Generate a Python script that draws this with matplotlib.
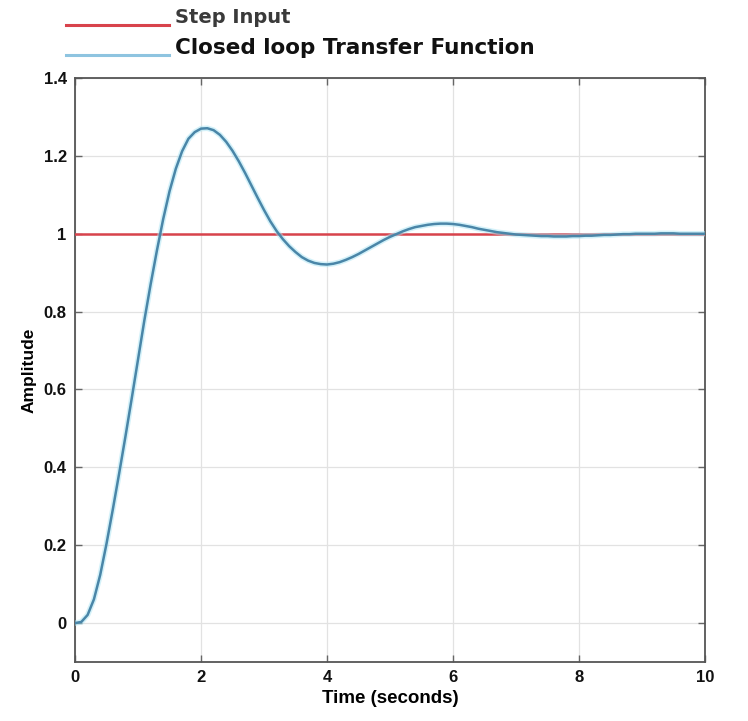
import numpy as np
import matplotlib
matplotlib.use("Agg")
import matplotlib.pyplot as plt
from matplotlib.lines import Line2D

# closed loop step response, sampled every 0.1 s
time_s = np.round(np.arange(0, 10.01, 0.1), 1)
response = [
    0.000, 0.003, 0.021, 0.061, 0.124, 0.204, 0.292, 0.384, 0.479, 0.577,
    0.677, 0.777, 0.870, 0.957, 1.038, 1.109, 1.167, 1.212, 1.244, 1.261,
    1.270, 1.271, 1.266, 1.254, 1.236, 1.213, 1.186, 1.156, 1.124, 1.092,
    1.061, 1.032, 1.007, 0.986, 0.968, 0.953, 0.940, 0.931, 0.925, 0.922,
    0.921, 0.923, 0.927, 0.933, 0.940, 0.948, 0.957, 0.966, 0.975, 0.984,
    0.992, 0.999, 1.006, 1.012, 1.017, 1.020, 1.023, 1.025, 1.026, 1.026,
    1.025, 1.023, 1.020, 1.017, 1.013, 1.010, 1.007, 1.004, 1.002, 1.000,
    0.998, 0.997, 0.996, 0.995, 0.994, 0.994, 0.993, 0.993, 0.993, 0.994,
    0.994, 0.995, 0.995, 0.996, 0.997, 0.997, 0.998, 0.999, 0.999, 1.000,
    1.000, 1.000, 1.000, 1.001, 1.001, 1.001, 1.000, 1.000, 1.000, 1.000,
    1.000,
]

# unit step reference
step_t = [0, 10]
step_val = [1, 1]

x_ticks = [0, 2, 4, 6, 8, 10]
y_ticks = [0, 0.2, 0.4, 0.6, 0.8, 1, 1.2, 1.4]
y_tick_labels = ["0", "0.2", "0.4", "0.6", "0.8", "1", "1.2", "1.4"]

step_color = "#d8434c"
resp_color = "#4a86a8"

fig = plt.figure(figsize=(7.48, 7.21), dpi=100)
ax = fig.add_axes([0.1003, 0.0818, 0.8422, 0.81])

ax.plot(step_t, step_val, color=step_color, lw=1.8, zorder=3)
ax.plot(time_s, response, color="#a8e4f4", lw=4.0, alpha=0.5, zorder=3)
ax.plot(time_s, response, color=resp_color, lw=1.8, zorder=4)

ax.set_xlim(0, 10)
ax.set_ylim(-0.1, 1.4)
ax.set_xticks(x_ticks)
ax.set_yticks(y_ticks)
ax.set_yticklabels(y_tick_labels)

for lab in ax.get_xticklabels() + ax.get_yticklabels():
    lab.set_fontfamily("Liberation Sans")
    lab.set_fontweight("bold")
    lab.set_fontsize(12)
    lab.set_color("#111111")

ax.tick_params(direction="in", length=5, width=1, color="#666666",
               top=True, right=True, pad=6)
ax.grid(True, color="#e2e2e2", lw=0.9)
ax.set_axisbelow(True)
for sp in ax.spines.values():
    sp.set_color("#555555")
    sp.set_linewidth(1.3)

ax.set_xlabel("Time (seconds)", fontfamily="Liberation Sans", fontweight="bold",
              fontsize=13.5, labelpad=3)
ax.set_ylabel("Amplitude", fontfamily="Liberation Sans", fontweight="bold",
              fontsize=12.5, labelpad=5)

# legend drawn above the axes
W, H = 748, 721
fig.add_artist(Line2D([66 / W, 169 / W], [1 - 25 / H, 1 - 25 / H],
                      color=step_color, lw=2.2))
fig.add_artist(Line2D([66 / W, 169 / W], [1 - 55 / H, 1 - 55 / H],
                      color="#8ec4e0", lw=2.2))
fig.text(175 / W, 1 - 23 / H, "Step Input", fontfamily="DejaVu Sans",
         fontweight="bold", fontsize=14, color="#3a3a3a", va="baseline")
fig.text(175 / W, 1 - 54 / H, "Closed loop Transfer Function", fontfamily="DejaVu Sans",
         fontweight="bold", fontsize=15.5, color="#111111", va="baseline")

fig.savefig("out.png", dpi=100)
